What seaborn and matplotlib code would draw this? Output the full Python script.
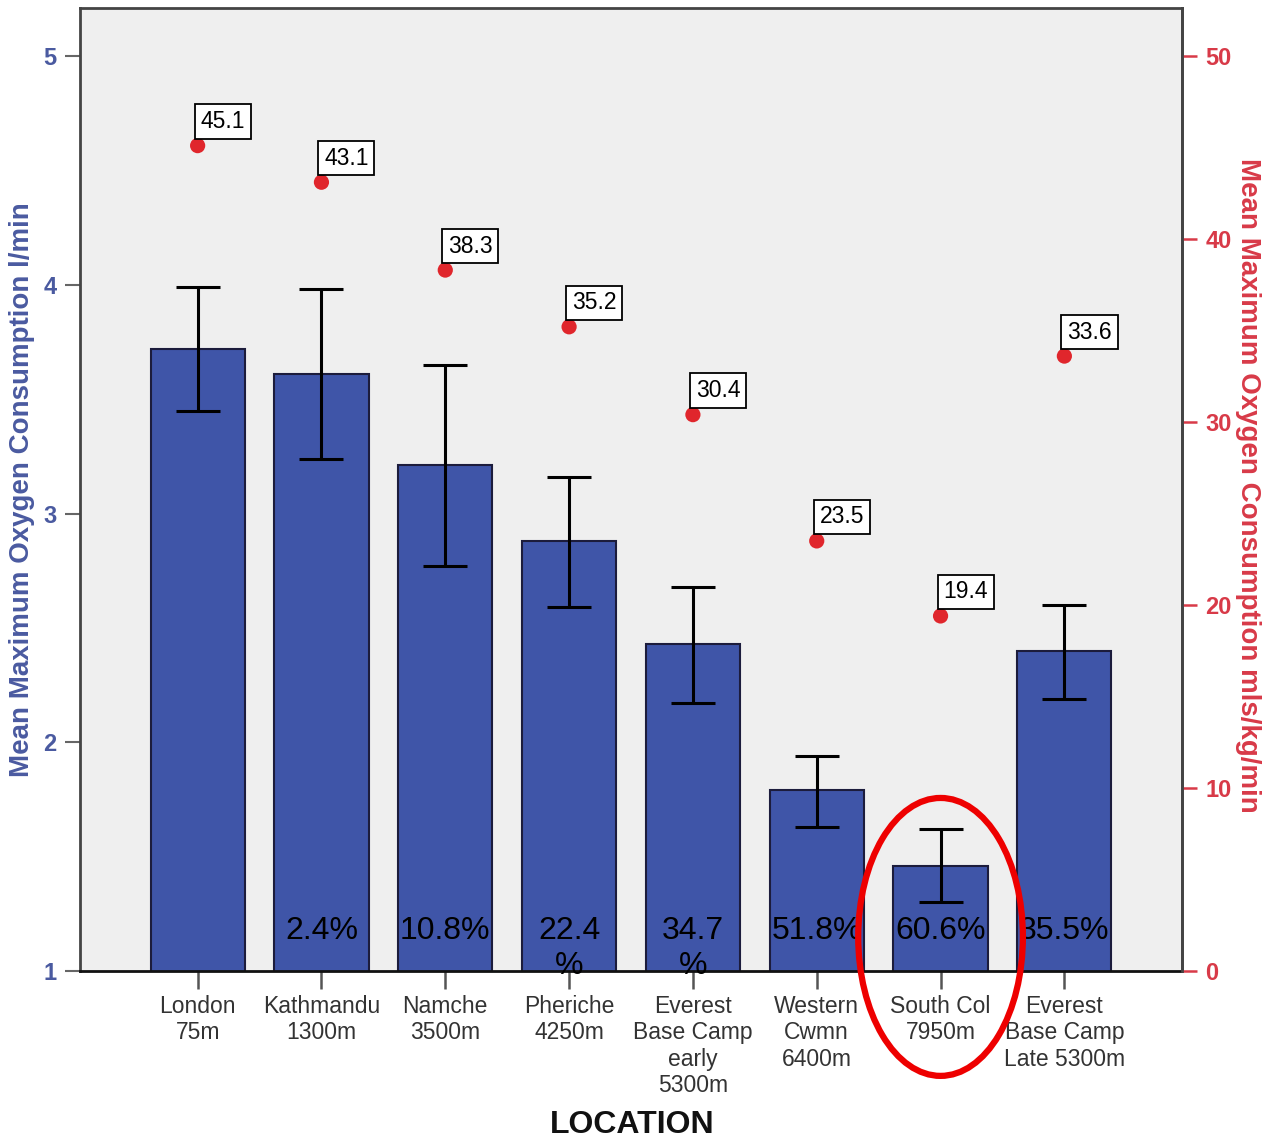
import numpy as np
import pandas as pd
import matplotlib
matplotlib.use("Agg")
import matplotlib.pyplot as plt
from matplotlib.patches import Ellipse
import seaborn as sns

# Everest expedition: VO2 max at each camp
locations = [
    "London\n75m", "Kathmandu\n1300m", "Namche\n3500m", "Pheriche\n4250m",
    "Everest\nBase Camp\nearly\n5300m", "Western\nCwmn\n6400m",
    "South Col\n7950m", "Everest\nBase Camp\nLate 5300m",
]
vo2_lmin = [3.72, 3.61, 3.21, 2.88, 2.43, 1.79, 1.46, 2.40]
ci_low = [3.45, 3.24, 2.77, 2.59, 2.17, 1.63, 1.30, 2.19]
ci_high = [3.99, 3.98, 3.65, 3.16, 2.68, 1.94, 1.62, 2.60]
vo2_mlkg = [45.1, 43.1, 38.3, 35.2, 30.4, 23.5, 19.4, 33.6]
pct_drop = ["", "2.4%", "10.8%", "22.4\n%", "34.7\n%", "51.8%", "60.6%", "35.5%"]
highlight = "South Col\n7950m"

left_ticks = [1, 2, 3, 4, 5]
right_ticks = [0, 10, 20, 30, 40, 50]

sns.set_theme(style="white")
plt.rcParams["font.family"] = ["Liberation Sans", "DejaVu Sans"]

df = pd.DataFrame({
    "location": locations,
    "pos": np.arange(len(locations)),
    "vo2": vo2_lmin,
    "low": ci_low,
    "high": ci_high,
    "mlkg": vo2_mlkg,
})

BAR = "#3f55a8"
RED = "#e0262c"
AXIS_BLUE = "#4a5aa0"
AXIS_RED = "#d83a48"
FRAME = "#444444"

fig = plt.figure(figsize=(12.69, 11.43), dpi=100)
ax = fig.add_axes([80 / 1269, 1 - 971 / 1143, 1102 / 1269, 963 / 1143])
ax.set_facecolor("#efefef")

sns.barplot(data=df, x="location", y="vo2", color=BAR, saturation=1,
            width=0.76, edgecolor="#1c1c3c", linewidth=1.5,
            errorbar=None, ax=ax)

yerr = np.vstack([df["vo2"] - df["low"], df["high"] - df["vo2"]])
ax.errorbar(df["pos"], df["vo2"], yerr=yerr, fmt="none", ecolor="black",
            elinewidth=2.2, capsize=16, capthick=2.2, zorder=4)

ax.set_xlim(-0.95, len(locations) - 1 + 0.95)
ax.set_ylim(1, 5.21)
ax.set_yticks(left_ticks)
ax.set_yticklabels([str(t) for t in left_ticks], fontweight="bold",
                   fontsize=17, color=AXIS_BLUE)
ax.tick_params(axis="y", direction="out", length=11, width=1.5,
               color="#666666", pad=6, left=True)
ax.tick_params(axis="x", direction="out", length=13, width=1.8,
               color="#555555", pad=4, bottom=True)
ax.set_xticks(df["pos"])
ax.set_xticklabels(locations, fontsize=16.5, color="#333333", linespacing=1.2)

# Percentage decline relative to London, written at the foot of each bar
for i, txt in enumerate(pct_drop):
    if txt:
        ax.text(i, 1.24, txt, ha="center", va="top", fontsize=23,
                color="black", linespacing=1.2, zorder=5)

# Highlight ring around the summit camp
hi = locations.index(highlight)
ax.add_patch(Ellipse((hi, 1.149), width=1.33, height=1.215, fill=False,
                     ec="#ee0000", lw=4.5, clip_on=False, zorder=6))

for side in ["left", "top", "right"]:
    ax.spines[side].set_color(FRAME)
    ax.spines[side].set_linewidth(2)
ax.spines["bottom"].set_color("#111111")
ax.spines["bottom"].set_linewidth(2)

ax.set_xlabel("LOCATION", fontsize=23, fontweight="bold", color="#111111")
ax.xaxis.set_label_coords(0.501, -0.16)
ax.xaxis.label.set_va("center")
ax.set_ylabel("Mean Maximum Oxygen Consumption l/min", fontsize=20,
              fontweight="bold", color=AXIS_BLUE)
ax.yaxis.set_label_coords(-0.0526, 0.4995)
ax.yaxis.label.set_va("center")

# Relative VO2 max on the secondary axis
ax2 = ax.twinx()
sns.scatterplot(data=df, x="pos", y="mlkg", ax=ax2, color=RED, s=120,
                edgecolor="none", zorder=5, legend=False)
for x, v in zip(df["pos"], df["mlkg"]):
    ax2.annotate(f"{v:.1f}", (x, v), xytext=(2, 9),
                 textcoords="offset points", ha="left", va="bottom",
                 fontsize=16.5, color="black", zorder=6,
                 bbox=dict(boxstyle="square,pad=0.25", fc="white",
                           ec="black", lw=1.3))
ax2.set_ylim(0, 52.62)
ax2.set_xlim(ax.get_xlim())
ax2.set_yticks(right_ticks)
ax2.set_yticklabels([str(t) for t in right_ticks], fontweight="bold",
                    fontsize=17, color=AXIS_RED)
ax2.tick_params(axis="y", direction="out", length=11, width=1.8,
                color=AXIS_RED, pad=6, right=True)
ax2.set_xlabel("")
for side in ["left", "top", "bottom"]:
    ax2.spines[side].set_visible(False)
ax2.spines["right"].set_color(FRAME)
ax2.spines["right"].set_linewidth(2)
ax2.set_ylabel("Mean Maximum Oxygen Consumption mls/kg/min", fontsize=20,
               fontweight="bold", color=AXIS_RED, rotation=-90)
ax2.yaxis.set_label_coords(1.06, 0.504)
ax2.yaxis.label.set_va("center")

fig.savefig("out.png", dpi=100)
